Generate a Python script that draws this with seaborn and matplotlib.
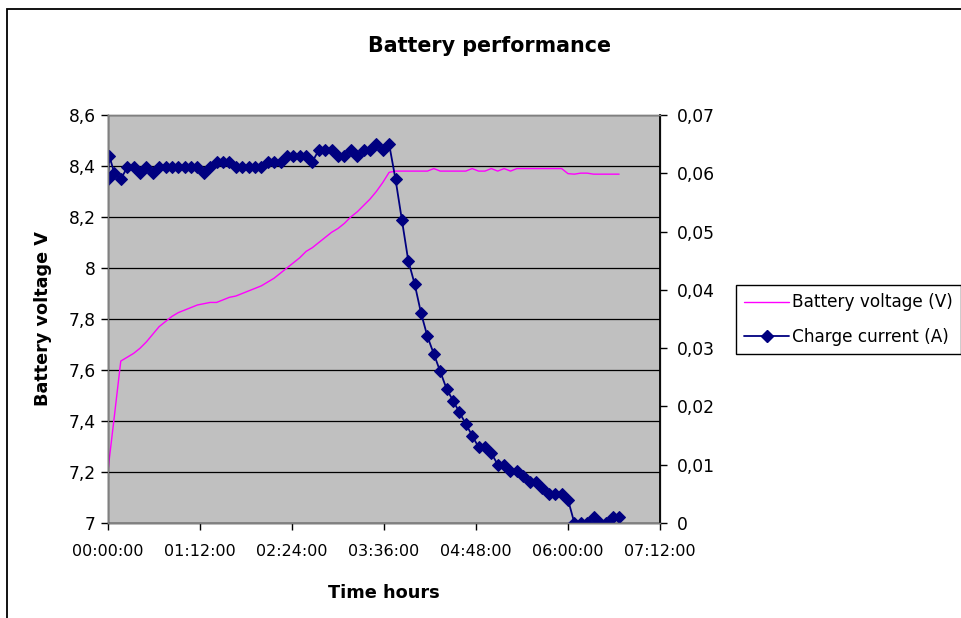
import matplotlib
matplotlib.use("Agg")
import matplotlib.pyplot as plt
import seaborn as sns
import pandas as pd
from matplotlib.patches import Rectangle
from matplotlib.lines import Line2D

# time in minutes since start
minutes = [0, 1] + [5 * k for k in range(1, 81)]

current_a = [
    0.059, 0.063, 0.060, 0.059, 0.061, 0.061, 0.060, 0.061, 0.060, 0.061,
    0.061, 0.061, 0.061, 0.061, 0.061, 0.061, 0.060, 0.061, 0.062, 0.062,
    0.062, 0.061, 0.061, 0.061, 0.061, 0.061, 0.062, 0.062, 0.062, 0.063,
    0.063, 0.063, 0.063, 0.062, 0.064, 0.064, 0.064, 0.063, 0.063, 0.064,
    0.063, 0.064, 0.064, 0.065, 0.064, 0.065,
    0.059, 0.052, 0.045, 0.041, 0.036, 0.032, 0.029, 0.026, 0.023, 0.021,
    0.019, 0.017, 0.015, 0.013, 0.013, 0.012, 0.010, 0.010, 0.009, 0.009,
    0.008, 0.007, 0.007, 0.006, 0.005, 0.005, 0.005, 0.004, 0.000, 0.000,
    0.000, 0.001, 0.000, 0.000, 0.001, 0.001,
]

voltage_v = [
    7.20, 7.25, 7.42, 7.635, 7.65, 7.665, 7.685, 7.71, 7.74, 7.77,
    7.79, 7.81, 7.825, 7.835, 7.845, 7.855, 7.86, 7.865, 7.865, 7.875,
    7.885, 7.89, 7.90, 7.91, 7.92, 7.93, 7.945, 7.96, 7.98, 8.00,
    8.02, 8.04, 8.065, 8.08, 8.10, 8.12, 8.14, 8.155, 8.175, 8.20,
    8.22, 8.245, 8.27, 8.30, 8.335, 8.375,
    8.38, 8.38, 8.38, 8.38, 8.38, 8.38, 8.39, 8.38, 8.38, 8.38,
    8.38, 8.38, 8.39, 8.38, 8.38, 8.39, 8.38, 8.39, 8.38, 8.39,
    8.39, 8.39, 8.39, 8.39, 8.39, 8.39, 8.39, 8.37, 8.368, 8.372,
    8.372, 8.368, 8.368, 8.368, 8.368, 8.368,
]

x_ticks_min = [0, 72, 144, 216, 288, 360, 432]
x_tick_labels = ["00:00:00", "01:12:00", "02:24:00", "03:36:00", "04:48:00", "06:00:00", "07:12:00"]
v_ticks = [7.0, 7.2, 7.4, 7.6, 7.8, 8.0, 8.2, 8.4, 8.6]
v_tick_labels = ["7", "7,2", "7,4", "7,6", "7,8", "8", "8,2", "8,4", "8,6"]
a_ticks = [0.0, 0.01, 0.02, 0.03, 0.04, 0.05, 0.06, 0.07]
a_tick_labels = ["0", "0,01", "0,02", "0,03", "0,04", "0,05", "0,06", "0,07"]

df = pd.DataFrame({"minutes": minutes, "voltage": voltage_v, "current": current_a})

sns.set_style("white")
plt.rcParams["font.family"] = ["DejaVu Sans"]
plt.rcParams["text.color"] = "black"
plt.rcParams["axes.labelcolor"] = "black"

W, H = 962, 618
fig = plt.figure(figsize=(W / 100, H / 100), dpi=100)
fig.patch.set_facecolor("white")

L, R, T, B = 108, 660, 115, 523
ax = fig.add_axes([L / W, 1 - B / H, (R - L) / W, (B - T) / H])
ax.set_facecolor("#C0C0C0")

sns.lineplot(data=df, x="minutes", y="voltage", ax=ax, color="#FF00FF",
             linewidth=1.0, legend=False, sort=False)
ax.set_xlim(0, 432)
ax.set_ylim(7.0, 8.6)
ax.set_yticks(v_ticks)
ax.set_yticklabels(v_tick_labels)
ax.set_xticks(x_ticks_min)
ax.set_xticklabels(x_tick_labels)
ax.yaxis.grid(True, color="black", linewidth=0.9)
ax.set_axisbelow(True)

ax2 = ax.twinx()
sns.lineplot(data=df, x="minutes", y="current", ax=ax2, color="#000080",
             linewidth=1.3, marker="D", markersize=6.3, markeredgecolor="#000080",
             legend=False, sort=False)
ax2.set_ylim(0, 0.07)
ax2.set_yticks(a_ticks)
ax2.set_yticklabels(a_tick_labels)
ax2.set_xlim(0, 432)

for a in (ax, ax2):
    for s in a.spines.values():
        s.set_color("#808080")
        s.set_linewidth(1.0)
ax.spines["left"].set_color("black")
ax.spines["bottom"].set_color("black")
ax2.spines["right"].set_color("black")
ax2.spines["right"].set_linewidth(1.3)

ax.tick_params(axis="y", direction="out", length=5, width=1, colors="black",
               labelsize=12.3, pad=4, left=True)
ax.tick_params(axis="x", direction="out", length=5, width=1, colors="black",
               labelsize=11.5, pad=10, bottom=True)
ax2.tick_params(axis="y", direction="out", length=5, width=1, colors="black",
                labelsize=12.3, pad=7, right=True)

ax.set_xlabel("Time hours", fontsize=12.8, fontweight="bold", labelpad=18)
ax.set_ylabel("Battery voltage V", fontsize=12.7, fontweight="bold", labelpad=12)
ax2.set_ylabel("")

fig.text(490 / W, 1 - 46 / H, "Battery performance", ha="center", va="center",
         fontsize=14.9, fontweight="bold", color="black")

handles = [
    Line2D([], [], color="#FF00FF", linewidth=1.0),
    Line2D([], [], color="#000080", linewidth=1.3, marker="D", markersize=6),
]
leg = fig.legend(handles, ["Battery voltage (V)", "Charge current (A)"],
                 loc="upper left", bbox_to_anchor=(736 / W, 1 - 285 / H),
                 fontsize=12.2, frameon=True, fancybox=False, framealpha=1,
                 edgecolor="black", handlelength=2.6, handletextpad=0.2,
                 borderpad=0.5, labelspacing=0.95, borderaxespad=0)
leg.get_frame().set_linewidth(1.0)
for t in leg.get_texts():
    t.set_color("black")

fig.patches.append(Rectangle((7 / W, -0.1), 1.2, 1.1 - 9 / H, transform=fig.transFigure,
                             fill=False, edgecolor="black", linewidth=1.3))

fig.savefig("out.png", dpi=100)
